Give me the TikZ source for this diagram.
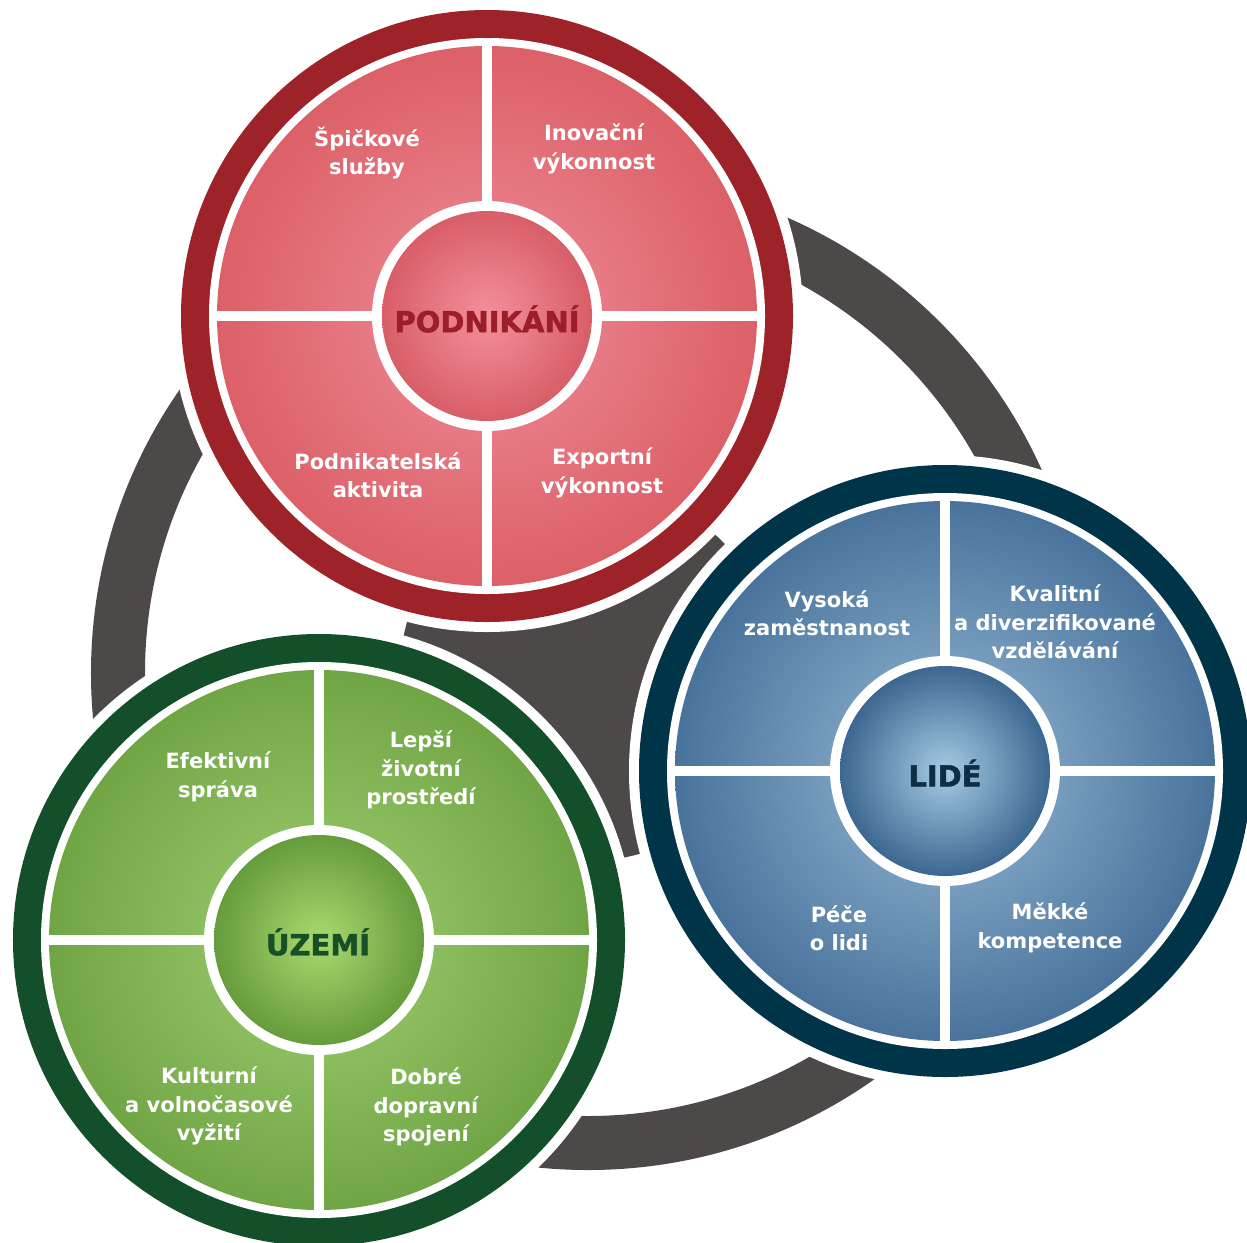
\documentclass[tikz,border=0pt]{standalone}
\usepackage{fontspec}
\newfontfamily\dvs{DejaVu Sans}
\newfontfamily\dvsheavy{DejaVu Sans Bold}[FakeBold=1.6]
\definecolor{greyc}{HTML}{4D4948}
\definecolor{redDark}{HTML}{9E2328}
\definecolor{redL}{HTML}{EE8D98}
\definecolor{redD}{HTML}{DC6068}
\definecolor{redIC}{HTML}{F3909C}
\definecolor{redIE}{HTML}{D85E68}
\definecolor{redT}{HTML}{9C1E2A}
\definecolor{blueDark}{HTML}{003449}
\definecolor{blueL}{HTML}{96BBD5}
\definecolor{blueD}{HTML}{4A739C}
\definecolor{blueIC}{HTML}{A5CBE4}
\definecolor{blueIE}{HTML}{3C6790}
\definecolor{blueT}{HTML}{0E2E45}
\definecolor{greenDark}{HTML}{144F2B}
\definecolor{greenL}{HTML}{A0CF70}
\definecolor{greenD}{HTML}{70A546}
\definecolor{greenIC}{HTML}{AAD970}
\definecolor{greenIE}{HTML}{669C3C}
\definecolor{greenT}{HTML}{175027}
\newcommand\mywheel[7]{%
  \fill[white] (#1,#2) circle (316bp);
  \fill[#3] (#1,#2) circle (306bp);
  \fill[white] (#1,#2) circle (278bp);
  \shade[inner color=#4, outer color=#5] (#1,#2) circle (270bp);
  \fill[white] (#1-274,#2-5) rectangle (#1+274,#2+5);
  \fill[white] (#1-5,#2-274) rectangle (#1+5,#2+274);
  \fill[white] (#1,#2) circle (115bp);
  \shade[inner color=#6, outer color=#7] (#1,#2) circle (105bp);
}
\tikzset{
  lbl/.style={text=white, inner sep=0pt, align=center,
    font=\dvs\bfseries\fontsize{21bp}{28.5bp}\selectfont},
  ttl/.style={inner sep=0pt,
    font=\dvsheavy\fontsize{29bp}{34bp}\selectfont}
}
\begin{document}
\begin{tikzpicture}[x=1bp,y=-1bp]
\useasboundingbox (0,0) rectangle (1247,1243);
\clip (0,0) rectangle (1247,1243);
\fill[white] (0,0) rectangle (1247,1243);
% grey cycle ring and hub
\fill[greyc, even odd rule] (588,673) circle (497bp) (588,673) circle (443bp);
\fill[greyc] (588,673) circle (188bp);
% wheels
\mywheel{487}{316}{redDark}{redL}{redD}{redIC}{redIE}
\mywheel{945}{771}{blueDark}{blueL}{blueD}{blueIC}{blueIE}
\mywheel{319}{940}{greenDark}{greenL}{greenD}{greenIC}{greenIE}
% red texts
\node[ttl, text=redT] (podnikani) at (487,319) {PODNIKÁNÍ};
\node[lbl] (spick) at (367,153) {Špičkové\\služby};
\node[lbl] (inov) at (594,149) {Inovační\\výkonnost};
\node[lbl] (podn) at (378,475) {Podnikatelská\\aktivita};
\node[lbl] (expo) at (602,473) {Exportní\\výkonnost};
% blue texts
\node[ttl, text=blueT] (lide) at (945,773) {LIDÉ};
\node[lbl] (vys) at (827,613) {Vysoká\\zaměstnanost};
\node[lbl] (kval) at (1055,622) {Kvalitní\\a diverzifikované\\vzdělávání};
\node[lbl] (pece) at (839,928) {Péče\\o lidi};
\node[lbl] (mekke) at (1050,928) {Měkké\\kompetence};
% green texts
\node[ttl, text=greenT] (uzemi) at (318,942) {ÚZEMÍ};
\node[lbl] (efek) at (218,777) {Efektivní\\správa};
\node[lbl] (leps) at (421,770) {Lepší\\životní\\prostředí};
\node[lbl] (kult) at (209,1106) {Kulturní\\a volnočasové\\vyžití};
\node[lbl] (dobr) at (426,1107) {Dobré\\dopravní\\spojení};
\end{tikzpicture}
\end{document}
